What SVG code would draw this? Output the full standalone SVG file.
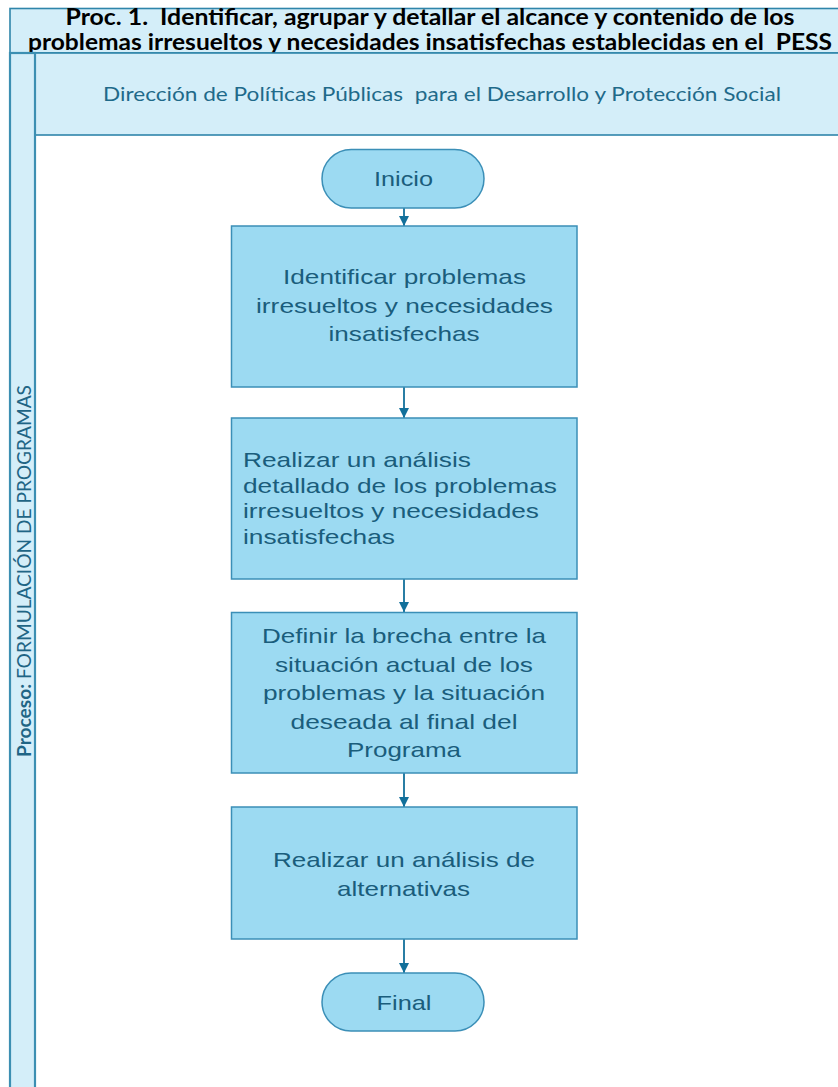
<svg xmlns="http://www.w3.org/2000/svg" width="838" height="1087" viewBox="0 0 838 1087">
<defs>
<style>
.frame{fill:#d4eef9;stroke:#2f85aa;stroke-width:1.6}
.lane{fill:#d4eef9;stroke:#3c8fb2;stroke-width:2.2}
.box{fill:#9cdaf2;stroke:#3b8fb7;stroke-width:1.5}
.t{font-family:"Liberation Sans",Arial,sans-serif;font-size:21px;fill:#1a5d7c}
.c{text-anchor:middle}
.title{font-family:Lato,"Open Sans",sans-serif;font-weight:bold;font-size:22px;fill:#000;white-space:pre}
.hdr{font-family:Lato,"Open Sans",sans-serif;font-size:20px;fill:#1f6a8a;white-space:pre}
.lanet{font-family:Lato,"Open Sans",sans-serif;font-size:19px;fill:#1f6585}
.con{stroke:#12709b;stroke-width:1.8;fill:none}
</style>
<marker id="ah" viewBox="0 0 10 10" refX="10" refY="5" markerWidth="10" markerHeight="10" markerUnits="userSpaceOnUse" orient="auto">
<path d="M0,0 L10,5 L0,10 z" fill="#12709b"/>
</marker>
</defs>
<rect width="838" height="1087" fill="#fff"/>
<g id="title">
<rect class="frame" x="10" y="8.5" width="840" height="44.5"/>
<text class="title c" x="430" y="25" textLength="729" lengthAdjust="spacingAndGlyphs" xml:space="preserve">Proc. 1.  Identificar, agrupar y detallar el alcance y contenido de los</text>
<text class="title" x="28" y="50" textLength="804" lengthAdjust="spacingAndGlyphs" xml:space="preserve">problemas irresueltos y necesidades insatisfechas establecidas en el  PESS</text>
</g>
<g id="header">
<rect class="frame" x="35" y="53" width="815" height="82"/>
<text class="hdr" x="103" y="101" textLength="678" lengthAdjust="spacingAndGlyphs" xml:space="preserve">Dirección de Políticas Públicas  para el Desarrollo y Protección Social</text>
</g>
<g id="lane">
<rect class="lane" x="10" y="53" width="25" height="1040"/>
<text class="lanet" transform="translate(31,757) rotate(-90)" textLength="372" lengthAdjust="spacingAndGlyphs"><tspan font-weight="bold">Proceso:</tspan> FORMULACIÓN DE PROGRAMAS</text>
</g>
<g id="connectors">
<line class="con" x1="404" y1="208" x2="404" y2="226" marker-end="url(#ah)"/>
<line class="con" x1="404" y1="387" x2="404" y2="418" marker-end="url(#ah)"/>
<line class="con" x1="404" y1="579" x2="404" y2="612" marker-end="url(#ah)"/>
<line class="con" x1="404" y1="773" x2="404" y2="807" marker-end="url(#ah)"/>
<line class="con" x1="404" y1="939" x2="404" y2="973" marker-end="url(#ah)"/>
</g>
<g id="inicio">
<rect class="box" x="322" y="149.5" width="162" height="58.5" rx="29.25"/>
<text class="t c" x="403.5" y="186" font-size="24" textLength="59" lengthAdjust="spacingAndGlyphs">Inicio</text>
</g>
<g id="paso1">
<rect class="box" x="231.5" y="226" width="345.5" height="161"/>
<text class="t c" x="404.5" y="284" textLength="243" lengthAdjust="spacingAndGlyphs">Identificar problemas</text>
<text class="t c" x="404.5" y="313" textLength="297" lengthAdjust="spacingAndGlyphs">irresueltos y necesidades</text>
<text class="t c" x="404" y="341" textLength="151" lengthAdjust="spacingAndGlyphs">insatisfechas</text>
</g>
<g id="paso2">
<rect class="box" x="231.5" y="418" width="345.5" height="161"/>
<text class="t" x="243" y="467" textLength="228" lengthAdjust="spacingAndGlyphs">Realizar un análisis</text>
<text class="t" x="243" y="492.5" textLength="314" lengthAdjust="spacingAndGlyphs">detallado de los problemas</text>
<text class="t" x="243" y="518" textLength="296" lengthAdjust="spacingAndGlyphs">irresueltos y necesidades</text>
<text class="t" x="243" y="543.5" textLength="152" lengthAdjust="spacingAndGlyphs">insatisfechas</text>
</g>
<g id="paso3">
<rect class="box" x="231.5" y="612.5" width="345.5" height="160.5"/>
<text class="t c" x="404" y="643" textLength="284" lengthAdjust="spacingAndGlyphs">Definir la brecha entre la</text>
<text class="t c" x="404" y="672" textLength="258" lengthAdjust="spacingAndGlyphs">situación actual de los</text>
<text class="t c" x="404" y="700" textLength="282" lengthAdjust="spacingAndGlyphs">problemas y la situación</text>
<text class="t c" x="404" y="728.5" textLength="227" lengthAdjust="spacingAndGlyphs">deseada al final del</text>
<text class="t c" x="404" y="757" textLength="114" lengthAdjust="spacingAndGlyphs">Programa</text>
</g>
<g id="paso4">
<rect class="box" x="231.5" y="807" width="345.5" height="132"/>
<text class="t c" x="404" y="866.5" textLength="262" lengthAdjust="spacingAndGlyphs">Realizar un análisis de</text>
<text class="t c" x="403.5" y="895.5" textLength="133" lengthAdjust="spacingAndGlyphs">alternativas</text>
</g>
<g id="final">
<rect class="box" x="322" y="973" width="162" height="58" rx="29"/>
<text class="t c" x="404" y="1010" font-size="24" textLength="55" lengthAdjust="spacingAndGlyphs">Final</text>
</g>
</svg>
